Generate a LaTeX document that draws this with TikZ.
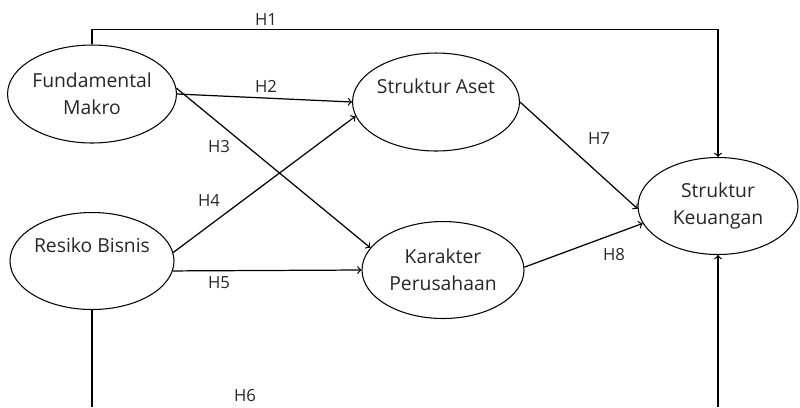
\documentclass[tikz,border=0pt]{standalone}
\usepackage{fontspec}
\setmainfont{Open Sans}
\usetikzlibrary{shapes.geometric}

\tikzset{
	var/.style={ellipse,draw,line width=0.6pt,inner sep=0pt,align=center,text=black!85,font=\fontsize{11}{15.3}\selectfont},
	path/.style={->,line width=0.7pt},
	hyp/.style={text=black!85,font=\fontsize{9.5}{11}\selectfont}
}

\begin{document}
\begin{tikzpicture}[x=0.02cm,y=-0.02cm]
	\useasboundingbox (0,0) rectangle (800,407);
	
	%VARIABLES
	\node[var,minimum width=3.24cm,minimum height=1.96cm] (fm) at (92,94) {Fundamental\\Makro};
	\node[var,minimum width=3.24cm,minimum height=1.96cm] (sa) at (436,102) {Struktur Aset\\[-2pt]\strut};
	\node[var,minimum width=3.26cm,minimum height=1.94cm] (rb) at (92,261) {Resiko Bisnis\\[-2pt]\strut};
	\node[var,minimum width=3.24cm,minimum height=1.94cm] (kp) at (443,270) {Karakter\\Perusahaan};
	\node[var,minimum width=3.2cm,minimum height=1.94cm] (sk) at (718,206) {Struktur\\Keuangan};
	
	\coordinate (rbdown) at (92,407);
	\coordinate (skdown) at (718,407);
	
	%PATHS
	\draw[path] (fm.north) -- ++(0,-15) -| (sk.north); %H1
	\draw[path] (fm.east) -- (sa.west); %H2
	\draw[path] (fm.4) -- (kp.163); %H3
	\draw[path] (rb.6) -- (sa.190); %H4
	\draw[path] (rb.-7) -- (kp.west); %H5
	\draw[line width=0.7pt] (rb.south) -- (rbdown); %H6
	\draw[path] (skdown) -- (sk.south);
	\draw[path] (sa.east) -- (sk.182); %H7
	\draw[path] (kp.2) -- (sk.193); %H8
	
	%LABELS
	\node[hyp] (h1) at (266,20) {H1};
	\node[hyp] (h2) at (266,86) {H2};
	\node[hyp] (h3) at (219,147) {H3};
	\node[hyp] (h4) at (209,200) {H4};
	\node[hyp] (h5) at (219,283) {H5};
	\node[hyp] (h6) at (245,396) {H6};
	\node[hyp] (h7) at (599,139) {H7};
	\node[hyp] (h8) at (614,255) {H8};
\end{tikzpicture}
\end{document}
